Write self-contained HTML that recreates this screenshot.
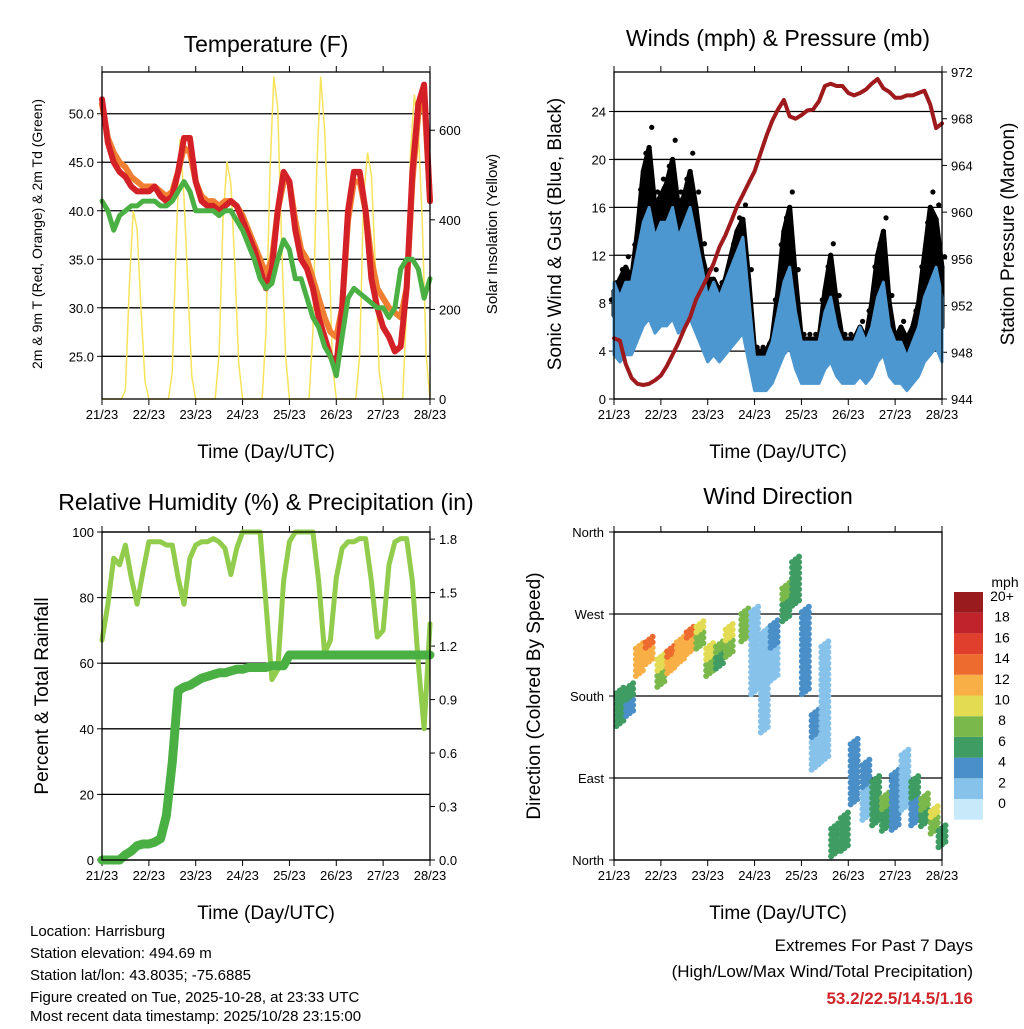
<!DOCTYPE html>
<html><head><meta charset="utf-8">
<style>
html,body{margin:0;padding:0;background:#fff;}
svg text{font-family:"Liberation Sans",sans-serif;fill:#000;}
</style></head>
<body>
<svg id="chart" width="1024" height="1024" viewBox="0 0 1024 1024" xmlns="http://www.w3.org/2000/svg">
<g id="layer"></g>
<text x="266" y="52" font-size="23" text-anchor="middle">Temperature (F)</text>
<text x="778" y="46" font-size="23" text-anchor="middle">Winds (mph) &amp; Pressure (mb)</text>
<text x="266" y="510" font-size="23" text-anchor="middle">Relative Humidity (%) &amp; Precipitation (in)</text>
<text x="778" y="504" font-size="23" text-anchor="middle">Wind Direction</text>
<text x="266" y="458" font-size="19" text-anchor="middle">Time (Day/UTC)</text>
<text x="778" y="458" font-size="19" text-anchor="middle">Time (Day/UTC)</text>
<text x="266" y="919" font-size="19" text-anchor="middle">Time (Day/UTC)</text>
<text x="778" y="919" font-size="19" text-anchor="middle">Time (Day/UTC)</text>
<text transform="translate(42,234) rotate(-90)" font-size="14" text-anchor="middle">2m &amp; 9m T (Red, Orange) &amp; 2m Td (Green)</text>
<text transform="translate(497,234) rotate(-90)" font-size="15" text-anchor="middle">Solar Insolation (Yellow)</text>
<text transform="translate(561,234) rotate(-90)" font-size="19" text-anchor="middle">Sonic Wind &amp; Gust (Blue, Black)</text>
<text transform="translate(1014,234) rotate(-90)" font-size="19" text-anchor="middle">Station Pressure (Maroon)</text>
<text transform="translate(48,696) rotate(-90)" font-size="19" text-anchor="middle">Percent &amp; Total Rainfall</text>
<text transform="translate(540,696) rotate(-90)" font-size="19" text-anchor="middle">Direction (Colored By Speed)</text>
<text x="1005" y="587" font-size="14" text-anchor="middle">mph</text>
<g font-size="15">
<text x="30" y="936">Location: Harrisburg</text>
<text x="30" y="958">Station elevation: 494.69 m</text>
<text x="30" y="980">Station lat/lon: 43.8035; -75.6885</text>
<text x="30" y="1002">Figure created on Tue, 2025-10-28, at 23:33 UTC</text>
<text x="30" y="1024" dy="-3">Most recent data timestamp: 2025/10/28 23:15:00</text>
</g>
<text x="973" y="951" font-size="17" text-anchor="end">Extremes For Past 7 Days</text>
<text x="973" y="977" font-size="17" text-anchor="end">(High/Low/Max Wind/Total Precipitation)</text>
<text x="973" y="1004" font-size="17" font-weight="bold" text-anchor="end" style="fill:#d0262b">53.2/22.5/14.5/1.16</text>
</svg>
<script>
// ---- data (3-hour steps, t = 0..168 h) ----
const dayLabels = ["21/23","22/23","23/23","24/23","25/23","26/23","27/23","28/23"];
const temp9m = [51.5,47,45,44,43.5,42.5,42,42,42,42.5,41.5,41,41.5,44,47.5,47.5,43,41,40.5,40.5,40,40.5,41,40.5,39,37.5,36,34,32,34,40,44,43,38,35,34,32,29,27,25,24,30,40,44,44,40,33,30,28,27,25.5,26,32,44,51,53,41];
const temp2m = [51,47.5,46,45,44.5,43.5,43,42.5,42.5,42.5,42,41.5,42,44,46.5,46,43,41.5,41,41,40.5,41,41,40.5,39.5,38,36.5,35,33.5,35,40,43,43,39,36,35,33,31,29,27.5,27,30,39,43,43,40,35,32,31,30,29.5,29,32,43,50,52,41];
const dewpt = [41,40,38,39.5,40,40.5,40.5,41,41,41,40.5,40.5,41,42,43,42,40,40,40,40,39.5,40,40,39,38,36.5,35,33,32,32.5,35,37,36,33,33,31,29,28,26,25,23,27,31,32,31.5,31,30.5,30,30,29,30,34,35,35,34,31,33];
const solar = [0,0,0,0,0,0,20,250,420,380,200,40,0,0,0,0,0,0,60,350,580,450,250,50,0,0,0,0,0,0,100,400,530,480,300,80,0,0,0,0,0,0,150,500,720,650,350,100,0,0,0,0,0,0,150,520,720,600,380,80,0,0,0,0,0,0,100,450,550,500,300,60,0,0,0,0,0,0,200,550,680,600,400,100,0];
const windSpd = [7,6,7,7,9,11,12,10,11,11,12,10,11,12,10,8,6,7,6,7,8,9,10,6,2,2,2,3,5,7,8,5,3,3,3,3,5,6,4,3,3,3,4,3,4,6,7,4,3,3,2,3,4,6,7,8,6];
const windGust = [9,10,11,10,14,19,21,16,17,18,20,16,17,19,16,12,10,10,9,10,12,14,15,10,4,4,4,5,9,14,16,10,5,5,5,5,9,12,8,5,5,5,6,5,8,12,14,8,5,6,5,6,8,12,16,15,11];
const pressure = [949.2,949,947,945.8,945.3,945.2,945.3,945.6,946,946.8,947.8,948.8,950,951,952.5,953.5,954.5,955.6,957,958,959.2,960.5,961.5,962.5,963.5,965,966.5,967.8,968.8,969.6,968.2,968,968.3,968.7,968.8,969.5,970.8,971,970.8,970.8,970.2,970,970.2,970.5,971,971.4,970.6,970.3,969.8,969.8,970,970,970.2,970.4,969.2,967.2,967.6];
const relHum = [67,78,92,90,96,86,78,88,97,97,97,96,96,86,78,92,96,97,97,98,97,95,87,95,100,100,100,100,78,55,58,85,97,100,100,100,100,85,63,67,86,95,97,97,98,98,85,68,70,90,97,98,98,85,60,40,72];
const precip = [0,0,0,0,0.03,0.05,0.08,0.09,0.09,0.10,0.12,0.25,0.55,0.95,0.97,0.98,1.0,1.02,1.03,1.04,1.05,1.05,1.06,1.07,1.07,1.08,1.08,1.08,1.08,1.09,1.09,1.09,1.15,1.15,1.15,1.15,1.15,1.15,1.15,1.15,1.15,1.15,1.15,1.15,1.15,1.15,1.15,1.15,1.15,1.15,1.15,1.15,1.15,1.15,1.15,1.15,1.15];
const dirHours = [3,8,13,18,24,29,34,39,44,49,54,59,67,72,77,82,88,93,98,103,108,113,118,123,129,134,139,144,149,154,159,164,168];
const dirDeg = [170,176,220,230,208,220,230,241,247,220,225,241,258,230,198,230,285,307,230,132,176,22,33,99,77,66,55,66,88,66,55,44,27];
const dirSpread = [20,15,15,12,15,12,12,12,12,15,12,15,15,45,55,30,20,25,45,30,65,15,20,35,30,25,20,30,30,25,15,12,10];
const dirSpeed = [5,4,11,12,8,12,11,12,8,8,6,8,7,1,1,2,6,5,3,2,1,5,5,3,2,5,6,3,1,4,6,8,5];
const cbLabels = ["0","2","4","6","8","10","12","14","16","18","20+"];
const cbColors = ["#c8e9f9","#87c2ea","#4a8fc7","#3f9c62","#7ab84b","#e3dc52","#f8b046","#ee6b2f","#df3f2c","#c0232a","#991b1e"];

const NS="http://www.w3.org/2000/svg";
const layer=document.getElementById('layer');
function mk(tag,attrs,parent){const e=document.createElementNS(NS,tag);for(const k in attrs)e.setAttribute(k,attrs[k]);(parent||layer).appendChild(e);return e;}
function speedColor(s){let i=Math.min(10,Math.max(0,Math.round(s/2)));return cbColors[i];}
const T=i=>i*3;

const P1={x0:102,x1:430,y0:72,y1:399}, P2={x0:614,x1:942,y0:72,y1:399}, P3={x0:102,x1:430,y0:532,y1:860}, P4={x0:614,x1:942,y0:532,y1:860};
function xs(P,t){return P.x0+t*(P.x1-P.x0)/168;}
function lin(P,lo,hi){return v=>P.y1-(v-lo)*(P.y1-P.y0)/(hi-lo);}
const yT=lin(P1,20.6,54.3), ySol=lin(P1,0,730), yW=lin(P2,0,27.3), yP=lin(P2,944,972.0), yRH=lin(P3,0,100), yPr=lin(P3,0,1.84), yD=lin(P4,0,360);

function frame(P,name,leftTicks,rightTicks){
  const g=mk('g',{});
  
  
  leftTicks.forEach(tk=>{ if(tk.grid) mk('line',{x1:P.x0,x2:P.x1,y1:tk.y,y2:tk.y,stroke:'#000','stroke-width':1.3},g);
    mk('line',{x1:P.x0-5,x2:P.x0,y1:tk.y,y2:tk.y,stroke:'#000'},g);
    const t=mk('text',{x:P.x0-(tk.pad||8),y:tk.y+5,'font-size':13,'text-anchor':'end'},g);t.textContent=tk.l;});
  rightTicks.forEach(tk=>{mk('line',{x1:P.x1,x2:P.x1+5,y1:tk.y,y2:tk.y,stroke:'#000'},g);
    const t=mk('text',{x:P.x1+9,y:tk.y+5,'font-size':13},g);t.textContent=tk.l;});
  dayLabels.forEach((d,i)=>{const x=xs(P,i*24);
    mk('line',{x1:x,x2:x,y1:P.y1,y2:P.y1+6,stroke:'#000'},g);
    mk('line',{x1:x,x2:x,y1:P.y0-6,y2:P.y0,stroke:'#000'},g);
    const t=mk('text',{x:x,y:P.y1+20,'font-size':13,'text-anchor':'middle'},g);t.textContent=d;});
  return g;
}
function border(P){mk('rect',{x:P.x0,y:P.y0,width:P.x1-P.x0,height:P.y1-P.y0,fill:'none',stroke:'#000','stroke-width':1.3});}
function poly(P,arr,yf,attrs,name){const pts=arr.map((v,i)=>xs(P,T(i)).toFixed(1)+','+yf(v).toFixed(1)).join(' ');
  const e=mk('polyline',Object.assign({points:pts,fill:'none','stroke-linejoin':'round','stroke-linecap':'round'},attrs));
  
  return e;}

// Panel 1
frame(P1,'temperature',[50,45,40,35,30,25].map(v=>({y:yT(v),l:v.toFixed(1),grid:true})),[0,200,400,600].map(v=>({y:ySol(v),l:String(v)})));
{const pts=solar.map((v,i)=>xs(P1,i*2).toFixed(1)+','+ySol(v).toFixed(1)).join(' ');
 const e=mk('polyline',{points:pts,fill:'none',stroke:'#f7e35a','stroke-width':1.5});
 
 }
poly(P1,temp2m,yT,{stroke:'#f07f31','stroke-width':6},'temp-2m-line');
poly(P1,temp9m,yT,{stroke:'#d42128','stroke-width':6},'temp-9m-line');
poly(P1,dewpt,yT,{stroke:'#4bb043','stroke-width':5},'dewpoint-line');
border(P1);

// Panel 2
frame(P2,'winds',[0,4,8,12,16,20,24].map(v=>({y:yW(v),l:String(v),grid:true})),[944,948,952,956,960,964,968,972].map(v=>({y:yP(v),l:String(v)})));
windGust.forEach((v,i)=>{const x=xs(P2,T(i));
  for(let k=-1;k<=1;k++){const c=mk('circle',{cx:x+k*2.6,cy:yW(v*(1+k*0.08)),r:2.6,fill:'#000'});
   
   }});
{const up=windGust.map((v,i)=>xs(P2,T(i)).toFixed(1)+','+yW(v).toFixed(1));
 const dn=windSpd.map((v,i)=>xs(P2,T(i)).toFixed(1)+','+yW(v).toFixed(1)).reverse();
 const e=mk('polygon',{points:up.concat(dn).join(' '),fill:'#000',stroke:'#000','stroke-width':5,'stroke-linejoin':'round'});
 
 }
{const up=windSpd.map((v,i)=>xs(P2,T(i)).toFixed(1)+','+yW(v*1.25+1).toFixed(1));
 const dn=windSpd.map((v,i)=>xs(P2,T(i)).toFixed(1)+','+yW(Math.max(0,v*0.6-0.5)).toFixed(1)).reverse();
 const e=mk('polygon',{points:up.concat(dn).join(' '),fill:'#4d97d1',stroke:'#4d97d1','stroke-width':3,'stroke-linejoin':'round'});
 
 }
poly(P2,pressure,yP,{stroke:'#9e1a1d','stroke-width':4},'pressure-line');
border(P2);

// Panel 3
frame(P3,'humidity',[0,20,40,60,80,100].map(v=>({y:yRH(v),l:String(v),grid:true})),[0,0.3,0.6,0.9,1.2,1.5,1.8].map(v=>({y:yPr(v),l:v.toFixed(1)})));
poly(P3,relHum,yRH,{stroke:'#92cc4c','stroke-width':5},'rh-line');
poly(P3,precip,yPr,{stroke:'#4bb043','stroke-width':9},'precip-line');
border(P3);

// Panel 4
frame(P4,'direction',[["North",0],["East",90],["South",180],["West",270],["North",360]].map(a=>({y:yD(a[1]),l:a[0],grid:true,pad:10})),[]);
dirDeg.forEach((d,i)=>{const x=xs(P4,dirHours[i]);const sp=dirSpread[i];
  for(let o=-sp;o<=sp;o+=6){for(let k=-1;k<=1;k++){
    const c=mk('circle',{cx:x+k*3.5,cy:yD(Math.max(0,Math.min(360,d+o+k*3))),r:3,fill:speedColor(dirSpeed[i]+(o>0?1:0))});
    
    }}});
border(P4);
// colorbar
cbColors.forEach((c,i)=>{const y=799-i*20.7;
  const r=mk('rect',{x:954,y:y,width:29,height:20.7,fill:c});
  
  
  const t=mk('text',{x:1002,y:(y+9).toFixed(1),'font-size':14,'text-anchor':'middle'});t.textContent=cbLabels[i];
  
  });
</script>
</body></html>
